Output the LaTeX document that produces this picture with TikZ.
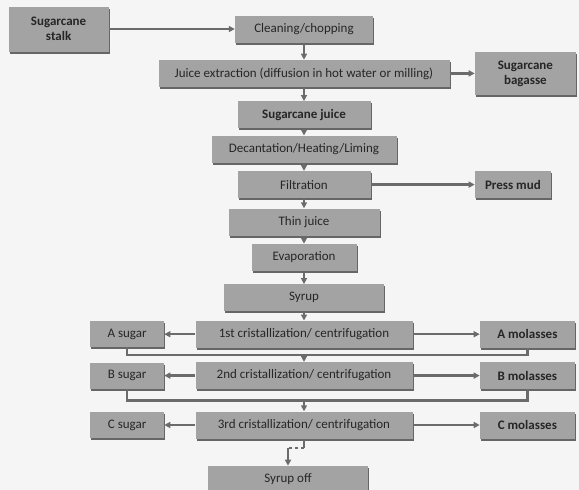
\documentclass[tikz,border=0pt]{standalone}
\usepackage{fontspec}
\setmainfont{Carlito}
\usetikzlibrary{positioning, calc, arrows.meta, shadows}

\begin{document}
\begin{tikzpicture}[
    >={Triangle[length=6pt, width=6pt]},
    procbox/.style={fill=black!36, text=black!85, minimum height=27pt, inner sep=2pt,
        font=\fontsize{13}{15}\selectfont,
        drop shadow={shadow xshift=1pt, shadow yshift=-2pt, fill=black!60, opacity=1}},
    prodbox/.style={procbox, font=\fontsize{13}{15}\selectfont\bfseries},
    flow/.style={draw=black!58, line width=2.4pt}
]
    \path [use as bounding box, fill=black!4] (0pt,0pt) rectangle (579pt,-490pt);

    \node [procbox, minimum width=138pt] (clean) at (304pt,-29pt) {Cleaning/chopping};
    \node [procbox, minimum width=291pt, below = 17pt of clean] (juice) {Juice extraction (diffusion in hot water or milling)};
    \node [prodbox, minimum width=133pt, below = 14pt of juice] (sjuice) {Sugarcane juice};
    \node [procbox, minimum width=185pt, below = 7pt of sjuice] (decant) {Decantation/Heating/Liming};
    \node [procbox, minimum width=133pt, below = 8pt of decant] (filt) {Filtration};
    \node [procbox, minimum width=151pt, below = 10pt of filt] (thin) {Thin juice};
    \node [procbox, minimum width=105pt, below = 8pt of thin] (evap) {Evaporation};
    \node [procbox, minimum width=160pt, below = 13pt of evap] (syrup) {Syrup};
    \node [procbox, minimum width=217pt, below = 9pt of syrup] (cryst1) {1st cristallization/ centrifugation};
    \node [procbox, minimum width=217pt, below = 14pt of cryst1] (cryst2) {2nd cristallization/ centrifugation};
    \node [procbox, minimum width=217pt, below = 22pt of cryst2] (cryst3) {3rd cristallization/ centrifugation};
    \node [procbox, minimum width=160pt, below = 27pt of cryst3, xshift=-16pt] (off) {Syrup off};

    \node [prodbox, minimum width=100pt, minimum height=45pt, align=center, left = 126pt of clean] (stalk) {Sugarcane\\stalk};
    \node [prodbox, minimum width=101pt, minimum height=43pt, align=center, right = 25pt of juice] (bagasse) {Sugarcane\\bagasse};
    \node [prodbox, minimum width=76pt, right = 104pt of filt] (mud) {Press mud};

    \node [procbox, minimum width=74pt, minimum height=26pt, left = 31pt of cryst1] (asugar) {A sugar};
    \node [procbox, minimum width=74pt, minimum height=26pt, left = 31pt of cryst2] (bsugar) {B sugar};
    \node [procbox, minimum width=74pt, minimum height=26pt, left = 31pt of cryst3] (csugar) {C sugar};
    \node [prodbox, minimum width=95pt, right = 67pt of cryst1] (amol) {A molasses};
    \node [prodbox, minimum width=95pt, right = 67pt of cryst2] (bmol) {B molasses};
    \node [prodbox, minimum width=95pt, right = 67pt of cryst3] (cmol) {C molasses};

    \coordinate (backA) at ($(cryst1.south)!0.5!(cryst2.north)$);
    \coordinate (backB) at ($(cryst2.south)!0.5!(cryst3.north)$);
    \coordinate [below = 9pt of cryst3.south] (jog);

    \draw [->, flow] (stalk) -- (clean);
    \draw [->, flow] (clean) -- (juice);
    \draw [->, flow] (juice) -- (bagasse);
    \draw [->, flow] (juice) -- (sjuice);
    \draw [->, flow] (sjuice) -- (decant);
    \draw [->, flow] (decant) -- (filt);
    \draw [->, flow] (filt) -- (mud);
    \draw [->, flow] (filt) -- (thin);
    \draw [->, flow] (thin) -- (evap);
    \draw [->, flow] (evap) -- (syrup);
    \draw [->, flow] (syrup) -- (cryst1);
    \draw [->, flow] (cryst1) -- (asugar);
    \draw [->, flow] (cryst1) -- (amol);
    \draw [flow] (amol.south) |- (backA) -| (asugar.south);
    \draw [->, flow] (backA) -- (cryst2);
    \draw [->, flow] (cryst2) -- (bsugar);
    \draw [->, flow] (cryst2) -- (bmol);
    \draw [flow] (bmol.south) |- (backB) -| (bsugar.south);
    \draw [->, flow] (backB) -- (cryst3);
    \draw [->, flow] (cryst3) -- (csugar);
    \draw [->, flow] (cryst3) -- (cmol);
    \draw [flow] (cryst3.south) -- (jog);
    \draw [flow, dashed] (jog) -- (jog -| off);
    \draw [->, flow] (jog -| off) -- (off);
\end{tikzpicture}
\end{document}
